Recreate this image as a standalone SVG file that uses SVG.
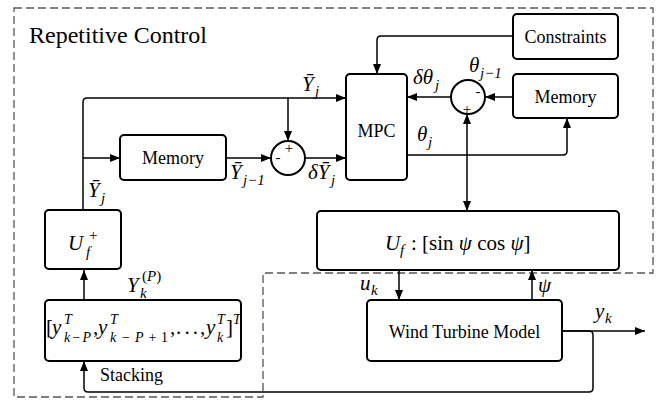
<svg xmlns="http://www.w3.org/2000/svg" width="665" height="400" viewBox="0 0 665 400" font-family="'Liberation Serif', 'Times New Roman', Times, serif">
<style>
.box{fill:#fff;stroke:#000;stroke-width:2}
.conn{fill:none;stroke:#000;stroke-width:1.5}
.dash{fill:none;stroke:#555;stroke-width:1.3;stroke-dasharray:8 4}
.lbl{font-size:18px}
.m{font-style:italic;font-size:21px}
.n{font-style:normal;font-size:21px}
.s{font-style:italic;font-size:15px}
.t{font-style:italic;font-size:14px}
.up{font-style:normal;font-size:15px}
.sg{font-size:15px}
</style>
<defs>
<marker id="arr" markerWidth="10" markerHeight="8" refX="10" refY="4" orient="auto" markerUnits="userSpaceOnUse">
<path d="M0,0 L10,4 L0,8 Z" fill="#000"/>
</marker>
</defs>
<path class="dash" d="M14,8 H653 V273 H263 V397 H14 Z"/>
<text x="29" y="43" font-size="24">Repetitive Control</text>

<g id="connectors">
<path class="conn" d="M83,210 V102 Q83,98 87,98 H346" marker-end="url(#arr)"/>
<path class="conn" d="M83,158 H120" marker-end="url(#arr)"/>
<path class="conn" d="M288,98 V141" marker-end="url(#arr)"/>
<path class="conn" d="M226,158 H271" marker-end="url(#arr)"/>
<path class="conn" d="M305,158 H346" marker-end="url(#arr)"/>
<path class="conn" d="M513,36 H381 Q377,36 377,40 V74" marker-end="url(#arr)"/>
<path class="conn" d="M513,97 H485" marker-end="url(#arr)"/>
<path class="conn" d="M451,97 H407" marker-end="url(#arr)"/>
<path class="conn" d="M407,155 H563 Q567,155 567,151 V118" marker-end="url(#arr)"/>
<path class="conn" d="M467,155 V114" marker-end="url(#arr)"/>
<path class="conn" d="M467,155 V211" marker-end="url(#arr)"/>
<path class="conn" d="M399,270 V300" marker-end="url(#arr)"/>
<path class="conn" d="M532,300 V270" marker-end="url(#arr)"/>
<path class="conn" d="M562,331 H645" marker-end="url(#arr)"/>
<path class="conn" d="M562,331 H589 Q593,331 593,335 V388 Q593,392 589,392 H88 Q84,392 84,388 V361" marker-end="url(#arr)"/>
<path class="conn" d="M84,300 V270" marker-end="url(#arr)"/>
</g>

<g id="memory-left">
<rect class="box" x="120" y="135" width="106" height="45" rx="4"/>
<text class="lbl" x="173" y="164" text-anchor="middle">Memory</text>
</g>
<g id="sum-left">
<circle class="box" cx="288" cy="158" r="17"/>
<text class="sg" x="289" y="153" text-anchor="middle">+</text>
<text class="sg" x="278" y="162" text-anchor="middle">-</text>
</g>
<g id="mpc">
<rect class="box" x="346" y="74" width="61" height="106" rx="4"/>
<text class="lbl" x="376.5" y="137" text-anchor="middle">MPC</text>
</g>
<g id="constraints">
<rect class="box" x="513" y="14" width="105" height="45" rx="4"/>
<text class="lbl" x="565.5" y="43" text-anchor="middle">Constraints</text>
</g>
<g id="memory-right">
<rect class="box" x="513" y="74" width="105" height="44" rx="4"/>
<text class="lbl" x="565.5" y="103" text-anchor="middle">Memory</text>
</g>
<g id="sum-right">
<circle class="box" cx="468" cy="97" r="17"/>
<text class="sg" x="467" y="114" text-anchor="middle">+</text>
<text class="sg" x="478" y="96" text-anchor="middle">-</text>
</g>
<g id="uf-plus">
<rect class="box" x="45" y="210" width="76" height="59" rx="4"/>
<text class="m" x="68" y="250">U</text>
<text class="s" x="86" y="257">f</text>
<text class="up" x="89" y="240">+</text>
</g>
<g id="stacking-box">
<rect class="box" x="45" y="300" width="196" height="61" rx="4"/>
<text class="n" x="46" y="334" font-size="22">[</text>
<text class="m" x="52" y="334" font-size="22">y</text>
<text class="t" x="64" y="324">T</text>
<text class="t" x="64" y="342" textLength="27" lengthAdjust="spacing">k−P</text>
<text class="n" x="93" y="334">,</text>
<text class="m" x="98" y="334" font-size="22">y</text>
<text class="t" x="110" y="324">T</text>
<text class="t" x="110" y="342" textLength="58" lengthAdjust="spacing">k−P<tspan font-style="normal">+1</tspan></text>
<text class="n" x="170" y="334">,</text>
<text class="n" x="176" y="334" textLength="22" lengthAdjust="spacing">. . .</text>
<text class="n" x="200" y="334">,</text>
<text class="m" x="206" y="334" font-size="22">y</text>
<text class="t" x="217" y="324">T</text>
<text class="t" x="217" y="342">k</text>
<text class="n" x="226" y="334" font-size="22">]</text>
<text class="t" x="233" y="324">T</text>
</g>
<g id="uf-box">
<rect class="box" x="317" y="211" width="302" height="59" rx="4"/>
<text class="m" x="385" y="250">U</text>
<text class="s" x="400" y="255">f</text>
<text class="n" x="411" y="250">: [sin <tspan font-style="italic">ψ</tspan> cos <tspan font-style="italic">ψ</tspan>]</text>
</g>
<g id="wind-turbine">
<rect class="box" x="367" y="300" width="195" height="61" rx="4"/>
<text class="lbl" x="464.5" y="338" text-anchor="middle">Wind Turbine Model</text>
</g>

<g id="labels">
<text class="m" x="302" y="91">Ȳ</text><text class="s" x="315" y="96">j</text>
<text class="m" x="230" y="179">Ȳ</text><text class="s" x="243" y="185">j−1</text>
<text class="m" x="308" y="179">δȲ</text><text class="s" x="331" y="185">j</text>
<text class="m" x="88" y="197">Ȳ</text><text class="s" x="101" y="203">j</text>
<text class="m" x="413" y="84">δθ</text><text class="s" x="435" y="90">j</text>
<text class="m" x="469" y="72">θ</text><text class="s" x="480" y="78">j−1</text>
<text class="m" x="417" y="141">θ</text><text class="s" x="428" y="147">j</text>
<text class="m" x="127" y="292">Y</text><text class="s" x="140" y="298">k</text><text class="up" x="142" y="281">(<tspan font-style="italic">P</tspan>)</text>
<text class="m" x="360" y="290">u</text><text class="s" x="371" y="295">k</text>
<text class="m" x="538" y="292">ψ</text>
<text class="m" x="595" y="318">y</text><text class="s" x="605" y="323">k</text>
<text class="lbl" x="100" y="381">Stacking</text>
</g>
</svg>
